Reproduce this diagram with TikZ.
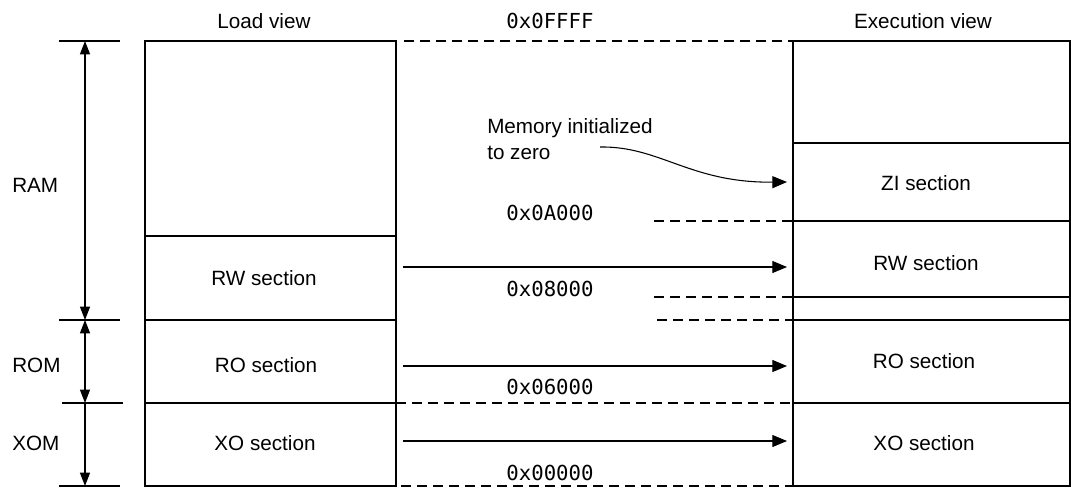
\documentclass[tikz,border=0pt]{standalone}
\usepackage{fontspec}
\setmainfont{Liberation Sans}
\setmonofont{DejaVu Sans Mono}
\usetikzlibrary{arrows.meta}
\begin{document}
\begin{tikzpicture}[x=0.75pt,y=-0.75pt,
  box/.style={line width=0.9pt},
  conn/.style={line width=0.8pt,-{Triangle[length=11pt,width=9pt]}},
  dimline/.style={line width=0.9pt},
  dtip/.tip={Triangle[length=10pt,width=7.5pt]},
  lbl/.style={font=\fontsize{15.5}{19.3}\selectfont, inner sep=0pt},
  addr/.style={font=\fontsize{15.5}{19}\ttfamily, inner sep=0pt},
  dsh/.style={line width=0.8pt, dash pattern=on 7.5pt off 4.5pt}]
\useasboundingbox (0,0) rectangle (1071,487);

% Load view box
\draw[box] (145,41) rectangle (396,486);
\draw[box] (145,236) -- (396,236);
\draw[box] (145,320) -- (396,320);
\draw[box] (145,403) -- (396,403);

% Execution view box
\draw[box] (793,41) rectangle (1070,486);
\foreach \yy in {143,221,297,320,403} \draw[box] (793,\yy) -- (1070,\yy);

% dashed address lines
\draw[dsh] (404,41) -- (793,41);
\draw[dsh] (654,221) -- (793,221);
\draw[dsh] (654,297) -- (793,297);
\draw[dsh] (657,320) -- (793,320);
\draw[dsh] (396,403) -- (793,403);
\draw[dsh] (401,486) -- (793,486);

% tick lines on the left
\draw[dimline] (59,41) -- (120,41);
\draw[dimline] (59,320) -- (120,320);
\draw[dimline] (62,403) -- (123,403);
\draw[dimline] (59,486) -- (120,486);

% dimension arrows
\coordinate (ramT) at (85,41);
\coordinate (ramB) at (85,320);
\coordinate (romB) at (85,403);
\coordinate (xomB) at (85,486);
\draw[dimline,dtip-dtip] (ramT) -- (ramB);
\draw[dimline,dtip-dtip] (ramB) -- (romB);
\draw[dimline,-dtip] (romB) -- (xomB);

% headings
\node[lbl] (hload) at (264,21) {Load view};
\node[addr] (htop) at (550,21) {0x0FFFF};
\node[lbl] (hexec) at (923,21) {Execution view};

% region labels
\node[lbl,anchor=west] (ram) at (12,185) {RAM};
\node[lbl,anchor=west] (rom) at (12,365) {ROM};
\node[lbl,anchor=west] (xom) at (12,443) {XOM};

% load sections
\node[lbl] (lrw) at (264,278) {RW section};
\node[lbl] (lro) at (266,365) {RO section};
\node[lbl] (lxo) at (265,443) {XO section};

% exec sections
\node[lbl] (ezi) at (926,183) {ZI section};
\node[lbl] (erw) at (926,263) {RW section};
\node[lbl] (ero) at (924,361) {RO section};
\node[lbl] (exo) at (924,443) {XO section};

% addresses
\node[addr] (a0a) at (550,213) {0x0A000};
\node[addr] (a08) at (550,289) {0x08000};
\node[addr] (a06) at (550,387) {0x06000};
\node[addr] (a00) at (550,473) {0x00000};

% note
\node[lbl,anchor=west,align=left] (note) at (487,139) {Memory initialized\\to zero};

% connectors
\coordinate (s1) at (403,267); \coordinate (t1) at (787,267);
\coordinate (s2) at (403,366); \coordinate (t2) at (787,366);
\coordinate (s3) at (403,441); \coordinate (t3) at (787,441);
\draw[conn] (s1) -- (t1);
\draw[conn] (s2) -- (t2);
\draw[conn] (s3) -- (t3);
\coordinate (cs) at (600,147); \coordinate (ct) at (787,182);
\draw[conn] (cs) .. controls (660,146) and (690,183) .. (ct);
\end{tikzpicture}
\end{document}
